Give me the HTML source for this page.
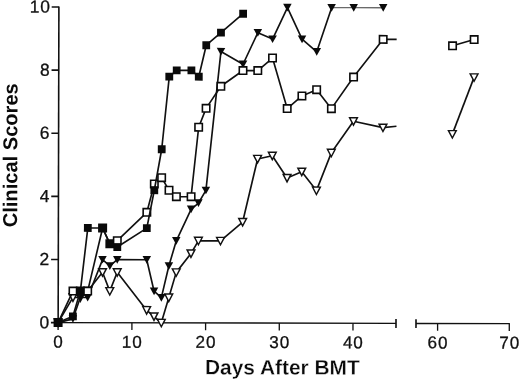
<!DOCTYPE html>
<html><head><meta charset="utf-8"><title>Clinical Scores</title>
<style>
html,body{margin:0;padding:0;background:#fff;}
body{width:520px;height:379px;overflow:hidden;}
svg{display:block;}
</style></head>
<body>
<svg width="520" height="379" viewBox="0 0 520 379">
<rect width="520" height="379" fill="#fff"/>
<g transform="rotate(0.135 58 322.6)">
<g stroke="#111" stroke-width="1.6" fill="none" stroke-linecap="butt">
<line x1="58.15" y1="6.6" x2="58.15" y2="323.40000000000003"/>
<line x1="50.949999999999996" y1="322.6" x2="58.15" y2="322.6"/>
<line x1="50.949999999999996" y1="259.5" x2="58.15" y2="259.5"/>
<line x1="50.949999999999996" y1="196.4" x2="58.15" y2="196.4"/>
<line x1="50.949999999999996" y1="133.2" x2="58.15" y2="133.2"/>
<line x1="50.949999999999996" y1="70.1" x2="58.15" y2="70.1"/>
<line x1="50.949999999999996" y1="7.0" x2="58.15" y2="7.0"/>
<line x1="58.15" y1="322.6" x2="396.0" y2="322.6" stroke-width="1.4"/>
<line x1="58.1" y1="322.6" x2="58.1" y2="329.90000000000003" stroke-width="1.3"/>
<line x1="131.9" y1="322.6" x2="131.9" y2="329.90000000000003" stroke-width="1.3"/>
<line x1="205.6" y1="322.6" x2="205.6" y2="329.90000000000003" stroke-width="1.3"/>
<line x1="279.3" y1="322.6" x2="279.3" y2="329.90000000000003" stroke-width="1.3"/>
<line x1="353.0" y1="322.6" x2="353.0" y2="329.90000000000003" stroke-width="1.3"/>
<line x1="396.0" y1="318.3" x2="396.0" y2="327.20000000000005"/>
<line x1="416.0" y1="318.3" x2="416.0" y2="327.20000000000005"/>
<line x1="416.0" y1="322.6" x2="509.9" y2="322.6" stroke-width="1.4"/>
<line x1="437.6" y1="322.6" x2="437.6" y2="329.90000000000003" stroke-width="1.3"/>
<line x1="509.3" y1="322.6" x2="509.3" y2="329.90000000000003" stroke-width="1.3"/>
</g>
<polyline points="58.1,322.6 72.9,297.4 80.3,297.4 87.6,291.0 102.4,272.1 109.7,291.0 117.1,272.1 146.6,310.0 154.0,316.3 161.3,322.6 168.7,297.4 176.1,272.1 190.8,253.2 198.2,240.5 220.3,240.5 242.4,221.6 257.2,158.5 271.9,155.3 286.7,177.4 301.4,171.1 316.1,190.0 330.9,152.2 353.0,120.6 382.5,126.9 396.0,125.4" fill="none" stroke="#111" stroke-width="1.65" stroke-linejoin="round"/>
<polyline points="451.9,133.2 473.5,76.4" fill="none" stroke="#111" stroke-width="1.65" stroke-linejoin="round"/>
<polygon points="54.2,319.1 62.0,319.1 58.1,326.5" fill="#fff" stroke="#111" stroke-width="1.45" stroke-linejoin="miter"/>
<polygon points="69.0,293.8 76.8,293.8 72.9,301.3" fill="#fff" stroke="#111" stroke-width="1.45" stroke-linejoin="miter"/>
<polygon points="76.4,293.8 84.2,293.8 80.3,301.3" fill="#fff" stroke="#111" stroke-width="1.45" stroke-linejoin="miter"/>
<polygon points="83.7,287.5 91.5,287.5 87.6,294.9" fill="#fff" stroke="#111" stroke-width="1.45" stroke-linejoin="miter"/>
<polygon points="98.5,268.6 106.3,268.6 102.4,276.0" fill="#fff" stroke="#111" stroke-width="1.45" stroke-linejoin="miter"/>
<polygon points="105.8,287.5 113.6,287.5 109.7,294.9" fill="#fff" stroke="#111" stroke-width="1.45" stroke-linejoin="miter"/>
<polygon points="113.2,268.6 121.0,268.6 117.1,276.0" fill="#fff" stroke="#111" stroke-width="1.45" stroke-linejoin="miter"/>
<polygon points="142.7,306.4 150.5,306.4 146.6,313.9" fill="#fff" stroke="#111" stroke-width="1.45" stroke-linejoin="miter"/>
<polygon points="150.1,312.7 157.9,312.7 154.0,320.2" fill="#fff" stroke="#111" stroke-width="1.45" stroke-linejoin="miter"/>
<polygon points="157.4,319.1 165.2,319.1 161.3,326.5" fill="#fff" stroke="#111" stroke-width="1.45" stroke-linejoin="miter"/>
<polygon points="164.8,293.8 172.6,293.8 168.7,301.3" fill="#fff" stroke="#111" stroke-width="1.45" stroke-linejoin="miter"/>
<polygon points="172.2,268.6 180.0,268.6 176.1,276.0" fill="#fff" stroke="#111" stroke-width="1.45" stroke-linejoin="miter"/>
<polygon points="186.9,249.6 194.7,249.6 190.8,257.1" fill="#fff" stroke="#111" stroke-width="1.45" stroke-linejoin="miter"/>
<polygon points="194.3,237.0 202.1,237.0 198.2,244.4" fill="#fff" stroke="#111" stroke-width="1.45" stroke-linejoin="miter"/>
<polygon points="216.4,237.0 224.2,237.0 220.3,244.4" fill="#fff" stroke="#111" stroke-width="1.45" stroke-linejoin="miter"/>
<polygon points="238.5,218.1 246.3,218.1 242.4,225.5" fill="#fff" stroke="#111" stroke-width="1.45" stroke-linejoin="miter"/>
<polygon points="253.3,154.9 261.1,154.9 257.2,162.4" fill="#fff" stroke="#111" stroke-width="1.45" stroke-linejoin="miter"/>
<polygon points="268.0,151.8 275.8,151.8 271.9,159.2" fill="#fff" stroke="#111" stroke-width="1.45" stroke-linejoin="miter"/>
<polygon points="282.8,173.9 290.6,173.9 286.7,181.3" fill="#fff" stroke="#111" stroke-width="1.45" stroke-linejoin="miter"/>
<polygon points="297.5,167.6 305.3,167.6 301.4,175.0" fill="#fff" stroke="#111" stroke-width="1.45" stroke-linejoin="miter"/>
<polygon points="312.2,186.5 320.0,186.5 316.1,193.9" fill="#fff" stroke="#111" stroke-width="1.45" stroke-linejoin="miter"/>
<polygon points="327.0,148.6 334.8,148.6 330.9,156.1" fill="#fff" stroke="#111" stroke-width="1.45" stroke-linejoin="miter"/>
<polygon points="349.1,117.1 356.9,117.1 353.0,124.5" fill="#fff" stroke="#111" stroke-width="1.45" stroke-linejoin="miter"/>
<polygon points="378.6,123.4 386.4,123.4 382.5,130.8" fill="#fff" stroke="#111" stroke-width="1.45" stroke-linejoin="miter"/>
<polygon points="448.0,129.7 455.8,129.7 451.9,137.1" fill="#fff" stroke="#111" stroke-width="1.45" stroke-linejoin="miter"/>
<polygon points="469.6,72.9 477.4,72.9 473.5,80.3" fill="#fff" stroke="#111" stroke-width="1.45" stroke-linejoin="miter"/>
<polyline points="58.1,322.6 72.9,318.8 80.3,297.4 87.6,297.4 102.4,259.5 109.7,265.8 117.1,259.5 146.6,259.5 154.0,291.0 161.3,297.4 168.7,265.8 176.1,240.5 190.8,209.0 198.2,202.7 205.6,190.0 220.3,51.2 242.4,63.8 257.2,32.2 271.9,38.6 286.7,7.0 301.4,38.6 316.1,51.2 330.9,7.0" fill="none" stroke="#111" stroke-width="1.65" stroke-linejoin="round"/>
<polyline points="330.9,7.0 353.0,7.0 382.5,7.0" fill="none" stroke="#6a6a6a" stroke-width="1.3" stroke-linejoin="round"/>
<polygon points="53.9,318.9 62.4,318.9 58.1,326.6" fill="#0a0a0a"/>
<polygon points="68.6,315.1 77.1,315.1 72.9,322.8" fill="#0a0a0a"/>
<polygon points="76.0,293.7 84.5,293.7 80.3,301.4" fill="#0a0a0a"/>
<polygon points="83.4,293.7 91.9,293.7 87.6,301.4" fill="#0a0a0a"/>
<polygon points="98.1,255.8 106.6,255.8 102.4,263.5" fill="#0a0a0a"/>
<polygon points="105.5,262.1 114.0,262.1 109.7,269.8" fill="#0a0a0a"/>
<polygon points="112.9,255.8 121.4,255.8 117.1,263.5" fill="#0a0a0a"/>
<polygon points="142.4,255.8 150.9,255.8 146.6,263.5" fill="#0a0a0a"/>
<polygon points="149.7,287.3 158.2,287.3 154.0,295.0" fill="#0a0a0a"/>
<polygon points="157.1,293.7 165.6,293.7 161.3,301.4" fill="#0a0a0a"/>
<polygon points="164.5,262.1 173.0,262.1 168.7,269.8" fill="#0a0a0a"/>
<polygon points="171.8,236.8 180.3,236.8 176.1,244.5" fill="#0a0a0a"/>
<polygon points="186.6,205.3 195.1,205.3 190.8,213.0" fill="#0a0a0a"/>
<polygon points="193.9,199.0 202.4,199.0 198.2,206.7" fill="#0a0a0a"/>
<polygon points="201.3,186.3 209.8,186.3 205.6,194.0" fill="#0a0a0a"/>
<polygon points="216.1,47.5 224.6,47.5 220.3,55.2" fill="#0a0a0a"/>
<polygon points="238.2,60.1 246.7,60.1 242.4,67.8" fill="#0a0a0a"/>
<polygon points="252.9,28.5 261.4,28.5 257.2,36.2" fill="#0a0a0a"/>
<polygon points="267.7,34.9 276.2,34.9 271.9,42.6" fill="#0a0a0a"/>
<polygon points="282.4,3.3 290.9,3.3 286.7,11.0" fill="#0a0a0a"/>
<polygon points="297.1,34.9 305.6,34.9 301.4,42.6" fill="#0a0a0a"/>
<polygon points="311.9,47.5 320.4,47.5 316.1,55.2" fill="#0a0a0a"/>
<polygon points="326.6,3.3 335.1,3.3 330.9,11.0" fill="#0a0a0a"/>
<polygon points="348.7,3.3 357.2,3.3 353.0,11.0" fill="#0a0a0a"/>
<polygon points="378.2,3.3 386.7,3.3 382.5,11.0" fill="#0a0a0a"/>
<polyline points="58.1,322.6 72.9,291.0 80.3,291.0 87.6,291.0 102.4,227.9 109.7,243.7 117.1,240.5 146.6,212.1 154.0,183.7 161.3,177.4 168.7,190.0 176.1,196.4 190.8,196.4 198.2,126.9 205.6,108.0 220.3,85.9 242.4,70.1 257.2,70.1 271.9,57.5 286.7,108.0 301.4,95.4 316.1,89.1 330.9,108.0 353.0,76.4 382.5,38.6 396.0,38.6" fill="none" stroke="#111" stroke-width="1.65" stroke-linejoin="round"/>
<polyline points="451.9,44.9 473.5,38.6" fill="none" stroke="#111" stroke-width="1.65" stroke-linejoin="round"/>
<rect x="54.4" y="318.9" width="7.4" height="7.4" fill="#fff" stroke="#0a0a0a" stroke-width="1.6"/>
<rect x="69.2" y="287.3" width="7.4" height="7.4" fill="#fff" stroke="#0a0a0a" stroke-width="1.6"/>
<rect x="76.6" y="287.3" width="7.4" height="7.4" fill="#fff" stroke="#0a0a0a" stroke-width="1.6"/>
<rect x="83.9" y="287.3" width="7.4" height="7.4" fill="#fff" stroke="#0a0a0a" stroke-width="1.6"/>
<rect x="98.7" y="224.2" width="7.4" height="7.4" fill="#fff" stroke="#0a0a0a" stroke-width="1.6"/>
<rect x="106.0" y="240.0" width="7.4" height="7.4" fill="#fff" stroke="#0a0a0a" stroke-width="1.6"/>
<rect x="113.4" y="236.8" width="7.4" height="7.4" fill="#fff" stroke="#0a0a0a" stroke-width="1.6"/>
<rect x="142.9" y="208.4" width="7.4" height="7.4" fill="#fff" stroke="#0a0a0a" stroke-width="1.6"/>
<rect x="150.3" y="180.0" width="7.4" height="7.4" fill="#fff" stroke="#0a0a0a" stroke-width="1.6"/>
<rect x="157.6" y="173.7" width="7.4" height="7.4" fill="#fff" stroke="#0a0a0a" stroke-width="1.6"/>
<rect x="165.0" y="186.3" width="7.4" height="7.4" fill="#fff" stroke="#0a0a0a" stroke-width="1.6"/>
<rect x="172.4" y="192.7" width="7.4" height="7.4" fill="#fff" stroke="#0a0a0a" stroke-width="1.6"/>
<rect x="187.1" y="192.7" width="7.4" height="7.4" fill="#fff" stroke="#0a0a0a" stroke-width="1.6"/>
<rect x="194.5" y="123.2" width="7.4" height="7.4" fill="#fff" stroke="#0a0a0a" stroke-width="1.6"/>
<rect x="201.9" y="104.3" width="7.4" height="7.4" fill="#fff" stroke="#0a0a0a" stroke-width="1.6"/>
<rect x="216.6" y="82.2" width="7.4" height="7.4" fill="#fff" stroke="#0a0a0a" stroke-width="1.6"/>
<rect x="238.7" y="66.4" width="7.4" height="7.4" fill="#fff" stroke="#0a0a0a" stroke-width="1.6"/>
<rect x="253.5" y="66.4" width="7.4" height="7.4" fill="#fff" stroke="#0a0a0a" stroke-width="1.6"/>
<rect x="268.2" y="53.8" width="7.4" height="7.4" fill="#fff" stroke="#0a0a0a" stroke-width="1.6"/>
<rect x="283.0" y="104.3" width="7.4" height="7.4" fill="#fff" stroke="#0a0a0a" stroke-width="1.6"/>
<rect x="297.7" y="91.7" width="7.4" height="7.4" fill="#fff" stroke="#0a0a0a" stroke-width="1.6"/>
<rect x="312.4" y="85.4" width="7.4" height="7.4" fill="#fff" stroke="#0a0a0a" stroke-width="1.6"/>
<rect x="327.2" y="104.3" width="7.4" height="7.4" fill="#fff" stroke="#0a0a0a" stroke-width="1.6"/>
<rect x="349.3" y="72.7" width="7.4" height="7.4" fill="#fff" stroke="#0a0a0a" stroke-width="1.6"/>
<rect x="378.8" y="34.9" width="7.4" height="7.4" fill="#fff" stroke="#0a0a0a" stroke-width="1.6"/>
<rect x="448.2" y="41.2" width="7.4" height="7.4" fill="#fff" stroke="#0a0a0a" stroke-width="1.6"/>
<rect x="469.8" y="34.9" width="7.4" height="7.4" fill="#fff" stroke="#0a0a0a" stroke-width="1.6"/>
<polyline points="58.1,322.6 72.9,316.3 80.3,291.0 87.6,227.9 102.4,227.9 109.7,243.7 117.1,246.9 146.6,227.9 154.0,190.0 161.3,149.0 168.7,76.4 176.1,70.1 190.8,70.1 198.2,76.4 205.6,44.9 220.3,32.2 242.4,13.3" fill="none" stroke="#111" stroke-width="1.65" stroke-linejoin="round"/>
<rect x="54.2" y="318.7" width="7.8" height="7.8" fill="#0a0a0a"/>
<rect x="69.0" y="312.4" width="7.8" height="7.8" fill="#0a0a0a"/>
<rect x="76.4" y="287.1" width="7.8" height="7.8" fill="#0a0a0a"/>
<rect x="83.7" y="224.0" width="7.8" height="7.8" fill="#0a0a0a"/>
<rect x="98.5" y="224.0" width="7.8" height="7.8" fill="#0a0a0a"/>
<rect x="105.8" y="239.8" width="7.8" height="7.8" fill="#0a0a0a"/>
<rect x="113.2" y="243.0" width="7.8" height="7.8" fill="#0a0a0a"/>
<rect x="142.7" y="224.0" width="7.8" height="7.8" fill="#0a0a0a"/>
<rect x="150.1" y="186.1" width="7.8" height="7.8" fill="#0a0a0a"/>
<rect x="157.4" y="145.1" width="7.8" height="7.8" fill="#0a0a0a"/>
<rect x="164.8" y="72.5" width="7.8" height="7.8" fill="#0a0a0a"/>
<rect x="172.2" y="66.2" width="7.8" height="7.8" fill="#0a0a0a"/>
<rect x="186.9" y="66.2" width="7.8" height="7.8" fill="#0a0a0a"/>
<rect x="194.3" y="72.5" width="7.8" height="7.8" fill="#0a0a0a"/>
<rect x="201.7" y="41.0" width="7.8" height="7.8" fill="#0a0a0a"/>
<rect x="216.4" y="28.3" width="7.8" height="7.8" fill="#0a0a0a"/>
<rect x="238.5" y="9.4" width="7.8" height="7.8" fill="#0a0a0a"/>
<g font-family="Liberation Sans, Arial, Helvetica, sans-serif" font-size="17.4" fill="#111" stroke="#111" stroke-width="0.3" letter-spacing="0.6">
<text x="49.7" y="328.2" text-anchor="end">0</text>
<text x="49.7" y="265.1" text-anchor="end">2</text>
<text x="49.7" y="202.0" text-anchor="end">4</text>
<text x="49.7" y="138.8" text-anchor="end">6</text>
<text x="49.7" y="75.7" text-anchor="end">8</text>
<text x="49.7" y="12.6" text-anchor="end">10</text>
<text x="58.5" y="347.5" text-anchor="middle" font-size="17.1" letter-spacing="0.9">0</text>
<text x="132.3" y="347.5" text-anchor="middle" font-size="17.1" letter-spacing="0.9">10</text>
<text x="206.0" y="347.5" text-anchor="middle" font-size="17.1" letter-spacing="0.9">20</text>
<text x="279.7" y="347.5" text-anchor="middle" font-size="17.1" letter-spacing="0.9">30</text>
<text x="353.4" y="347.5" text-anchor="middle" font-size="17.1" letter-spacing="0.9">40</text>
<text x="438.0" y="347.5" text-anchor="middle" font-size="17.1" letter-spacing="0.9">60</text>
<text x="509.7" y="347.5" text-anchor="middle" font-size="17.1" letter-spacing="0.9">70</text>
</g>
<text font-family="Liberation Sans, Arial, Helvetica, sans-serif" font-size="20.9" font-weight="bold" fill="#0a0a0a" stroke="#fff" stroke-width="0.3" x="205.1" y="374">Days After BMT</text>
<text font-family="Liberation Sans, Arial, Helvetica, sans-serif" font-size="20.1" font-weight="bold" fill="#0a0a0a" transform="translate(16.9,227.4) rotate(-90)" x="0" y="0">Clinical Scores</text>
</g>
</svg>
</body></html>
